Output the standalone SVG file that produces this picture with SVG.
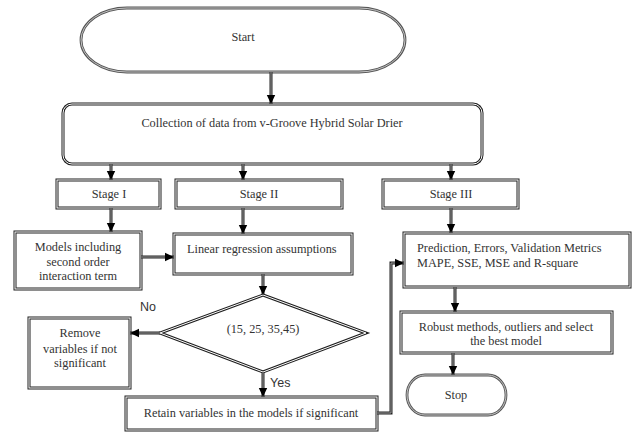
<svg xmlns="http://www.w3.org/2000/svg" width="633" height="433" viewBox="0 0 633 433">
<style>
.o{fill:#fff;stroke:#1f1f1f;stroke-width:3}
.i{fill:none;stroke:#fff;stroke-width:1}
.po{fill:#fff;stroke:#555;stroke-width:2.8}
.pi{fill:none;stroke:#d0d0d0;stroke-width:0.9}
.co{fill:none;stroke:#222;stroke-width:3}
.ci{fill:none;stroke:#a0a0a0;stroke-width:1;marker-end:url(#ah)}
.t{font-family:'Liberation Serif','DejaVu Serif',serif;font-size:12.3px;fill:#333;text-anchor:middle;font-weight:normal}
.s{font-family:'Liberation Sans','DejaVu Sans',sans-serif;font-size:12.5px;fill:#333;text-anchor:start}
.l{text-anchor:start}
</style>
<defs>
<marker id="ah" markerUnits="userSpaceOnUse" markerWidth="10" markerHeight="10" viewBox="0 0 10 10" refX="9" refY="5" orient="auto">
<path d="M0,0.8 L9,5 L0,9.2 Z" fill="#000"/>
</marker>
</defs>
<g id="start">
<rect class="po" x="81" y="8" width="324" height="64" rx="46" ry="32"/>
<rect class="pi" x="81" y="8" width="324" height="64" rx="46" ry="32"/>
<text class="t" x="243" y="41">Start</text>
</g>
<g id="collection">
<rect class="o" x="63" y="104" width="419" height="60" rx="9"/>
<rect class="i" x="63" y="104" width="419" height="60" rx="9"/>
<text class="t" x="272" y="127">Collection of data from v-Groove Hybrid Solar Drier</text>
</g>
<g id="stage1">
<rect class="o" x="57" y="180" width="103" height="28"/>
<rect class="i" x="57" y="180" width="103" height="28"/>
<text class="t" x="109" y="198">Stage I</text>
</g>
<g id="stage2">
<rect class="o" x="176" y="180" width="166" height="28"/>
<rect class="i" x="176" y="180" width="166" height="28"/>
<text class="t" x="259" y="198">Stage II</text>
</g>
<g id="stage3">
<rect class="o" x="383" y="180" width="135" height="28"/>
<rect class="i" x="383" y="180" width="135" height="28"/>
<text class="t" x="451" y="198">Stage III</text>
</g>
<g id="models">
<rect class="o" x="15" y="232" width="126" height="57"/>
<rect class="i" x="15" y="232" width="126" height="57"/>
<text class="t" x="78" y="251">Models including</text>
<text class="t" x="78" y="266">second order</text>
<text class="t" x="78" y="280">interaction term</text>
</g>
<g id="linear">
<rect class="o" x="174" y="234" width="178" height="40"/>
<rect class="i" x="174" y="234" width="178" height="40"/>
<text class="t l" x="187" y="253">Linear regression assumptions</text>
</g>
<g id="prediction">
<rect class="o" x="404" y="233" width="226" height="54"/>
<rect class="i" x="404" y="233" width="226" height="54"/>
<text class="t l" x="417" y="252">Prediction, Errors, Validation Metrics</text>
<text class="t l" x="417" y="267">MAPE, SSE, MSE and R-square</text>
</g>
<g id="decision">
<polygon class="o" points="263,295 366,333 263,372 160,333"/>
<polygon class="i" points="263,295 366,333 263,372 160,333"/>
<text class="t" x="263" y="333">(15, 25, 35,45)</text>
</g>
<g id="remove">
<rect class="o" x="29" y="318" width="101" height="70"/>
<rect class="i" x="29" y="318" width="101" height="70"/>
<text class="t" x="80" y="337">Remove</text>
<text class="t" x="80" y="353">variables if not</text>
<text class="t" x="80" y="367">significant</text>
</g>
<g id="retain">
<rect class="o" x="126" y="397" width="251" height="33"/>
<rect class="i" x="126" y="397" width="251" height="33"/>
<text class="t" x="251" y="417">Retain variables in the models if significant</text>
</g>
<g id="robust">
<rect class="o" x="401" y="312" width="211" height="41"/>
<rect class="i" x="401" y="312" width="211" height="41"/>
<text class="t" x="506" y="331">Robust methods, outliers and select</text>
<text class="t" x="506" y="345">the best model</text>
</g>
<g id="stop">
<rect class="po" x="407" y="375" width="99" height="40" rx="18" ry="20"/>
<rect class="pi" x="407" y="375" width="99" height="40" rx="18" ry="20"/>
<text class="t" x="456" y="399">Stop</text>
</g>
<g id="connectors">
<path class="co" d="M271,72 V104"/><path class="ci" d="M271,72 V104"/>
<path class="co" d="M111,164 V180"/><path class="ci" d="M111,164 V180"/>
<path class="co" d="M243,164 V180"/><path class="ci" d="M243,164 V180"/>
<path class="co" d="M451,164 V180"/><path class="ci" d="M451,164 V180"/>
<path class="co" d="M111,208 V232"/><path class="ci" d="M111,208 V232"/>
<path class="co" d="M243,208 V234"/><path class="ci" d="M243,208 V234"/>
<path class="co" d="M451,208 V233"/><path class="ci" d="M451,208 V233"/>
<path class="co" d="M141,257 H174"/><path class="ci" d="M141,257 H174"/>
<path class="co" d="M263,274 V295"/><path class="ci" d="M263,274 V295"/>
<path class="co" d="M160,333 H130"/><path class="ci" d="M160,333 H130"/>
<path class="co" d="M263,372 V397"/><path class="ci" d="M263,372 V397"/>
<path class="co" d="M377,413 H391 V263 H404"/><path class="ci" d="M377,413 H391 V263 H404"/>
<path class="co" d="M455,287 V312"/><path class="ci" d="M455,287 V312"/>
<path class="co" d="M453,353 V375"/><path class="ci" d="M453,353 V375"/>
<text class="s" x="140" y="311">No</text>
<text class="s" x="270" y="387">Yes</text>
</g>
</svg>
